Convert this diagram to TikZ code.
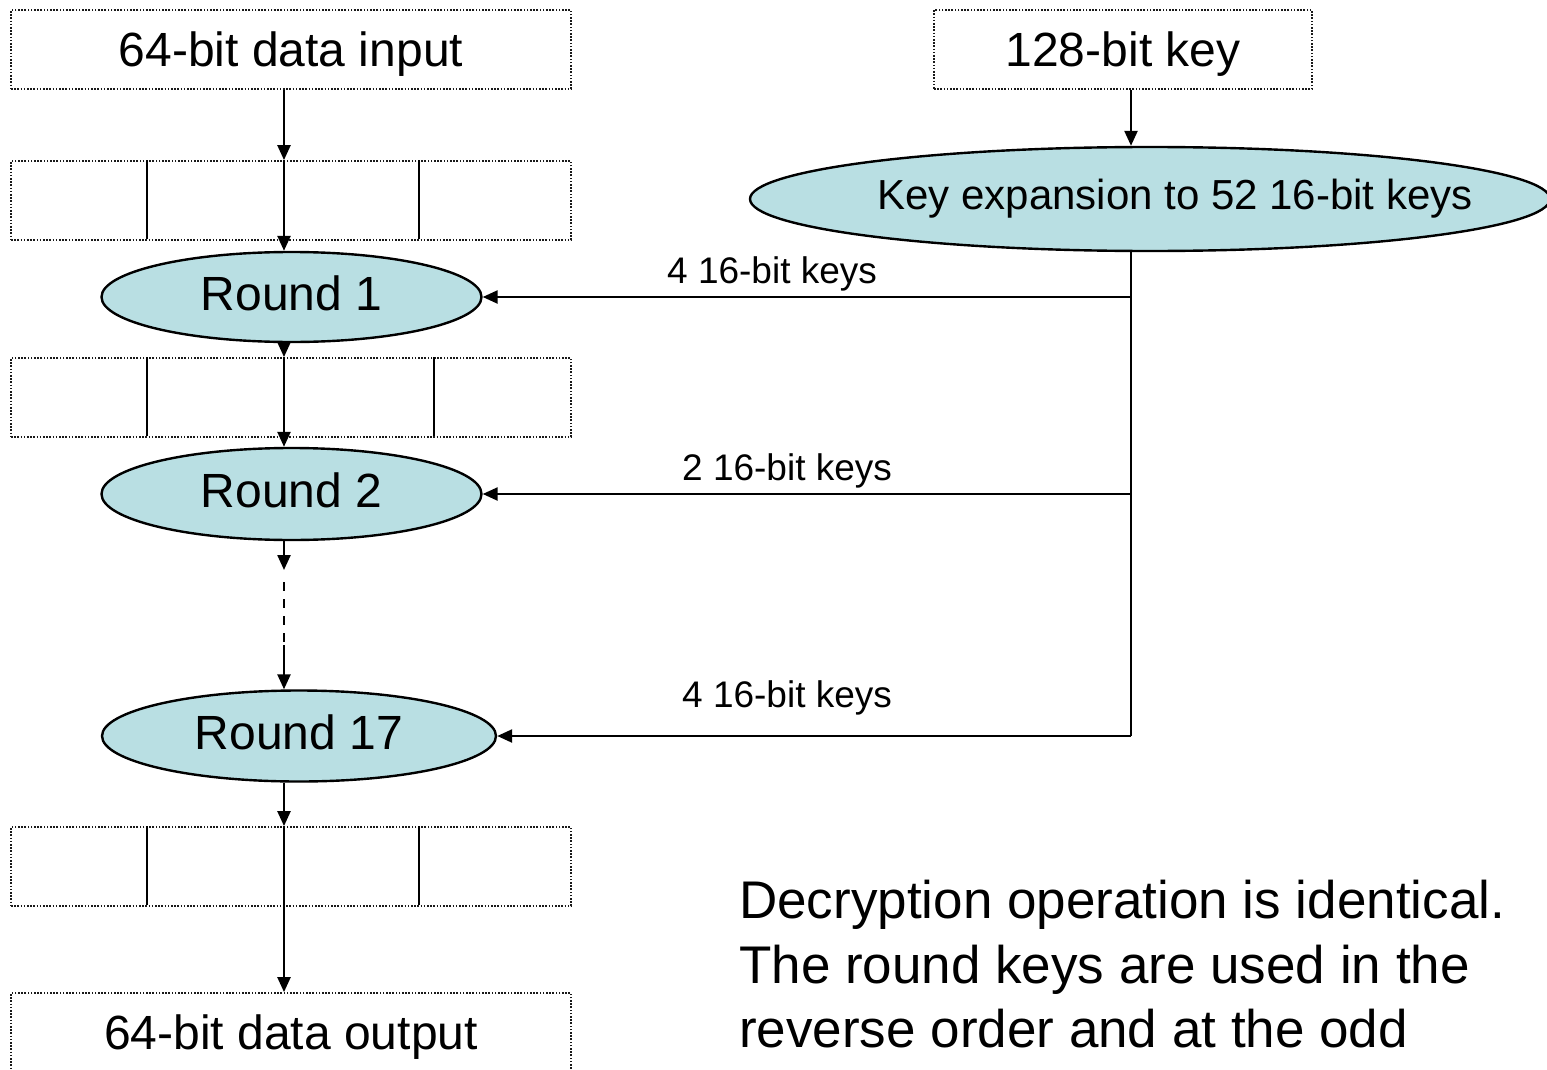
\documentclass[tikz,border=0pt]{standalone}
\usepackage{fontspec}
\setmainfont{Liberation Sans}
\usetikzlibrary{arrows.meta,shapes.geometric,calc}
\definecolor{roundfill}{RGB}{185,223,227}
\begin{document}
\begin{tikzpicture}[x=1pt,y=-1pt,
  flow/.style={line width=2.4pt},
  arr/.style={flow,-{Triangle[length=15pt,width=13pt]}},
  dotbox/.style={draw=black!90,line width=1.8pt,dash pattern=on 1.6pt off 1.6pt,
                 inner sep=0pt,text depth=0pt},
  databox/.style={dotbox,minimum width=560pt,minimum height=79pt,
                  font=\fontsize{48}{58}\selectfont},
  slotbox/.style={dotbox,minimum width=560pt,minimum height=79pt},
  slotline/.style={line width=2pt},
  roundnode/.style={ellipse,draw,line width=2.4pt,fill=roundfill,inner sep=0pt,
                    font=\fontsize{48}{58}\selectfont},
  keylbl/.style={font=\fontsize{37}{44}\selectfont,inner sep=0pt,anchor=base west},
]
\useasboundingbox (0,0) rectangle (1547,1070);

% spines of the data path and the key path
\coordinate (spine) at (284,0);
\coordinate (kspine) at (1131,0);

% data path
\node[databox] (in) at (291,49.5) {64-bit data input};
\node[slotbox] (b1) at (291,200.5) {};
\node[roundnode,minimum width=380pt,minimum height=90pt] (r1) at (291.5,297)
  {\raisebox{8pt}{Round 1}};
\node[slotbox] (b2) at (291,397.5) {};
\node[roundnode,minimum width=380pt,minimum height=92pt] (r2) at (291.5,494)
  {\raisebox{8pt}{Round 2}};
\node[roundnode,minimum width=394pt,minimum height=91pt] (r17) at (299,736)
  {\raisebox{8pt}{Round 17}};
\node[slotbox] (b3) at (291,866.5) {};
\node[databox] (out) at (291,1032.5) {64-bit data output};

% sub-block dividers
\foreach \b/\p/\q in {b1/137/409, b2/137/424, b3/137/409}{
  \draw[slotline] ($(\b.north west)+(\p,0)$) -- ($(\b.south west)+(\p,-2)$);
  \draw[slotline] ($(\b.north west)+(\q,0)$) -- ($(\b.south west)+(\q,-2)$);
}

% gap between round 2 and round 17
\coordinate (g1) at (284,570);
\coordinate (g2) at (284,582);
\coordinate (g3) at (284,645);

\draw[arr] (in.south -| spine) -- (b1.north -| spine);
\draw[arr] (b1.north -| spine) -- (r1.north -| spine);
\draw[arr] (r1.south -| spine) -- (b2.north -| spine);
\draw[arr] (b2.north -| spine) -- (r2.north -| spine);
\draw[arr] (r2.south -| spine) -- (g1);
\draw[flow,dash pattern=on 9pt off 8pt] (g2) -- (g3);
\draw[arr] (g3) -- (r17.north -| spine);
\draw[arr] (r17.south -| spine) -- (b3.north -| spine);
\draw[arr] (b3.north -| spine) -- (out.north -| spine);

% key path
\node[databox,minimum width=378pt] (key) at (1123,49.5) {128-bit key};
\node[roundnode,minimum width=800pt,minimum height=104pt,
      font=\fontsize{42}{50}\selectfont] (kx) at (1150,199)
  {\makebox[0pt]{\hspace*{50pt}\raisebox{4pt}{Key expansion to 52 16-bit keys}}};
\draw[arr] (key.south -| kspine) -- (kx.north -| kspine);
\draw[flow] (kx.south -| kspine) -- (r17.east -| kspine);
\draw[arr] (r1.east -| kspine) -- (r1.east);
\draw[arr] (r2.east -| kspine) -- (r2.east);
\draw[arr] (r17.east -| kspine) -- (r17.east);

\node[keylbl] (l1) at (667,283) {4 16-bit keys};
\node[keylbl] (l2) at (682,480) {2 16-bit keys};
\node[keylbl] (l3) at (682,707) {4 16-bit keys};

% note on decryption
\node[anchor=north west,inner sep=0pt,align=left,
      font=\fontsize{53}{64.5}\selectfont] (note) at (739,880)
  {Decryption operation is identical.\\
   The round keys are used in the\\
   reverse order and at the odd};
\end{tikzpicture}
\end{document}
